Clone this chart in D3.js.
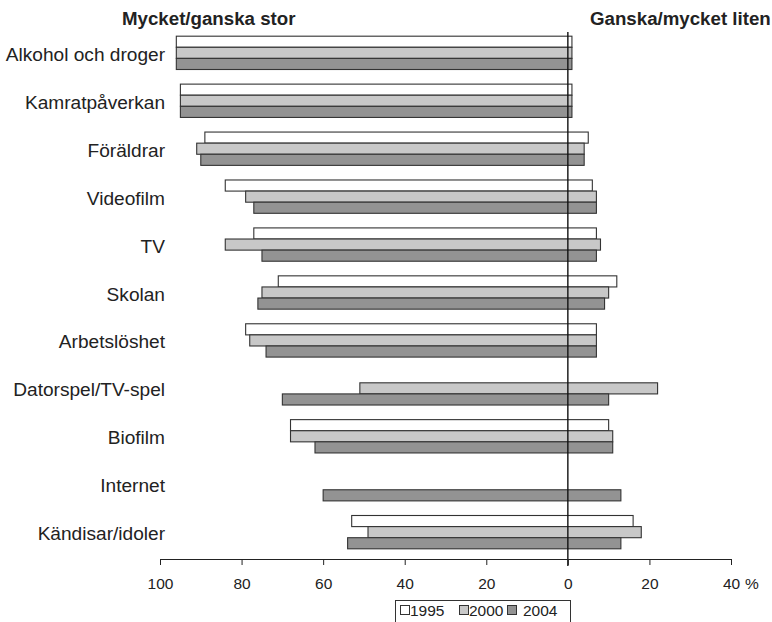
<!DOCTYPE html>
<html><head><meta charset="utf-8">
<script src="https://cdn.jsdelivr.net/npm/d3@7/dist/d3.min.js"></script>
<style>body{margin:0;background:#fff}svg{display:block;font-family:"Liberation Sans",Arial,Helvetica,sans-serif}</style>
</head><body>
<script>
const categories = ["Alkohol och droger","Kamratpåverkan","Föräldrar","Videofilm","TV","Skolan","Arbetslöshet","Datorspel/TV-spel","Biofilm","Internet","Kändisar/idoler"];
const years = ["1995","2000","2004"];
const large1995 = [96, 95, 89, 84, 77, 71, 79, null, 68, null, 53];
const small1995 = [1, 1, 5, 6, 7, 12, 7, null, 10, null, 16];
const large2000 = [96, 95, 91, 79, 84, 75, 78, 51, 68, null, 49];
const small2000 = [1, 1, 4, 7, 8, 10, 7, 22, 11, null, 18];
const large2004 = [96, 95, 90, 77, 75, 76, 74, 70, 62, 60, 54];
const small2004 = [1, 1, 4, 7, 7, 9, 7, 10, 11, 13, 13];
const tickValues = [-100, -80, -60, -40, -20, 0, 20, 40];
const tickLabels = ["100","80","60","40","20","0","20","40"];
const colors = ["#ffffff", "#c8c8c8", "#939393"];

const W = 772, H = 622;
const svg = d3.select("body").append("svg").attr("width", W).attr("height", H);

const x = d3.scaleLinear().domain([-100, 40]).range([160, 731]);
const y = d3.scaleBand().domain(categories).range([29, 556]).paddingInner(0.305).paddingOuter(0.15);
const y1 = d3.scaleBand().domain(years).range([0, y.bandwidth()]);

const large = [large1995, large2000, large2004];
const small = [small1995, small2000, small2004];
const rows = [];
categories.forEach((c, i) => {
  years.forEach((yr, j) => {
    if (large[j][i] != null) rows.push({c, yr, j, l: large[j][i], s: small[j][i]});
  });
});

svg.append("g").selectAll("rect").data(rows).join("rect")
  .attr("x", d => x(-d.l))
  .attr("y", d => y(d.c) + y1(d.yr))
  .attr("width", d => x(d.s) - x(-d.l))
  .attr("height", y1.bandwidth())
  .attr("fill", d => colors[d.j])
  .attr("stroke", "#333")
  .attr("stroke-width", 1.1);

// zero line
svg.append("line").attr("x1", x(0)).attr("x2", x(0)).attr("y1", 32).attr("y2", 566)
  .attr("stroke", "#111").attr("stroke-width", 1.4);

// category labels
svg.append("g").selectAll("text").data(categories).join("text")
  .attr("x", 165).attr("y", d => y(d) + y.bandwidth()/2 + 8)
  .attr("text-anchor", "end").attr("font-size", "19.1px").attr("fill", "#222")
  .text(d => d);

// x axis
const ax = svg.append("g").attr("transform", "translate(0,559)");
const axis = d3.axisBottom(x).tickValues(tickValues).tickSize(6).tickSizeOuter(0)
  .tickFormat((d, i) => tickLabels[i]);
ax.call(axis);
ax.select(".domain").attr("stroke", "#222").attr("stroke-width", 1.1);
ax.selectAll(".tick line").attr("stroke", "#222");
ax.selectAll(".tick text").attr("font-size", "15.5px").attr("fill", "#222").attr("dy", 0).attr("y", 30)
  .attr("font-family", "'Liberation Sans',Arial,sans-serif");
svg.append("text").attr("x", x(40) + 14).attr("y", 589).attr("font-size", "15.5px").attr("fill", "#222").text("%");

// titles
svg.append("text").attr("x", 122).attr("y", 25).attr("font-size", "18.7px").attr("font-weight", "bold").attr("fill", "#222").text("Mycket/ganska stor");
svg.append("text").attr("x", 590).attr("y", 25).attr("font-size", "18.7px").attr("font-weight", "bold").attr("fill", "#222").text("Ganska/mycket liten");

// legend
const lg = svg.append("g");
lg.append("rect").attr("x", 395.5).attr("y", 600.5).attr("width", 175).attr("height", 26)
  .attr("fill", "#fff").attr("stroke", "#333").attr("stroke-width", 1);
const lx = [400, 459, 507];
const tx = [410, 469, 523];
years.forEach((yr, j) => {
  lg.append("rect").attr("x", lx[j] + 0.5).attr("y", 605.5).attr("width", 9).attr("height", 9)
    .attr("fill", colors[j]).attr("stroke", "#333").attr("stroke-width", 1);
  lg.append("text").attr("x", tx[j]).attr("y", 615.5).attr("font-size", "15.5px").attr("fill", "#222").text(yr);
});
</script>
</body></html>
